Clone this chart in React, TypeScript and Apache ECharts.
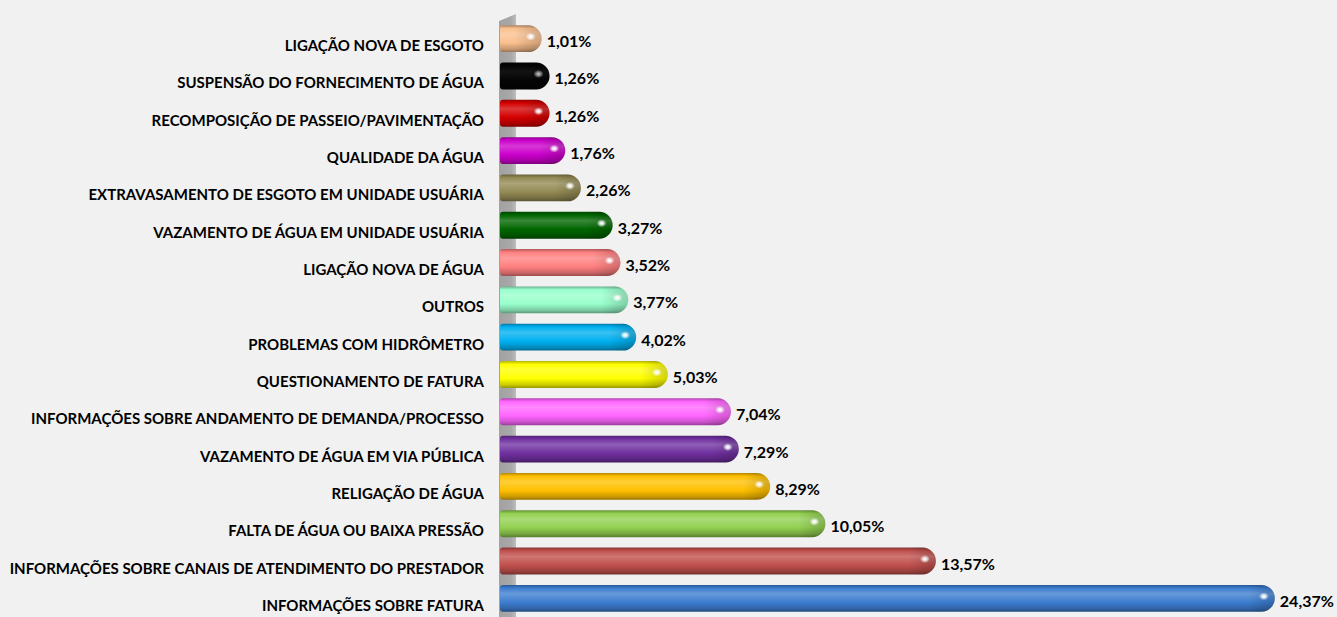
import React, { useEffect, useRef } from "react";
import * as echarts from "echarts";

const categories = [
  "LIGAÇÃO NOVA DE ESGOTO",
  "SUSPENSÃO DO FORNECIMENTO DE ÁGUA",
  "RECOMPOSIÇÃO DE PASSEIO/PAVIMENTAÇÃO",
  "QUALIDADE DA ÁGUA",
  "EXTRAVASAMENTO DE ESGOTO EM UNIDADE USUÁRIA",
  "VAZAMENTO DE ÁGUA EM UNIDADE USUÁRIA",
  "LIGAÇÃO NOVA DE ÁGUA",
  "OUTROS",
  "PROBLEMAS COM HIDRÔMETRO",
  "QUESTIONAMENTO DE FATURA",
  "INFORMAÇÕES SOBRE ANDAMENTO DE DEMANDA/PROCESSO",
  "VAZAMENTO DE ÁGUA EM VIA PÚBLICA",
  "RELIGAÇÃO DE ÁGUA",
  "FALTA DE ÁGUA OU BAIXA PRESSÃO",
  "INFORMAÇÕES SOBRE CANAIS DE ATENDIMENTO DO PRESTADOR",
  "INFORMAÇÕES SOBRE FATURA",
];

const values = [1.01, 1.26, 1.26, 1.76, 2.26, 3.27, 3.52, 3.77, 4.02, 5.03, 7.04, 7.29, 8.29, 10.05, 13.57, 24.37];

const barColors = [
  "#FAC08F", "#050505", "#D40000", "#CC00CC", "#948A54", "#006600", "#FF8080", "#99FFCC",
  "#00B0F0", "#FFFF00", "#FF66FF", "#7030A0", "#FFC000", "#92D050", "#C0504D", "#3C7DD0",
];

function mix(hex: string, target: number, t: number): string {
  const h = hex.replace("#", "");
  const r = parseInt(h.slice(0, 2), 16);
  const g = parseInt(h.slice(2, 4), 16);
  const b = parseInt(h.slice(4, 6), 16);
  const f = (c: number) => Math.round(c + (target - c) * t);
  return `rgb(${f(r)},${f(g)},${f(b)})`;
}

const FONT = "Lato";

export default function App() {
  const ref = useRef<HTMLDivElement>(null);
  useEffect(() => {
    if (!ref.current) return;
    const chart = echarts.init(ref.current, undefined, { renderer: "svg" });
    const data = values.map((v, i) => [v, i]);
    chart.setOption({
      animation: false,
      backgroundColor: "#f1f1f1",
      grid: { left: 510, right: 11, top: 20, bottom: -3 },
      xAxis: {
        type: "value",
        min: 0,
        max: 26,
        show: false,
      },
      yAxis: {
        type: "category",
        data: categories,
        inverse: true,
        axisLine: { show: false },
        axisTick: { show: false },
        splitLine: { show: false },
        axisLabel: {
          margin: 26,
          fontFamily: FONT,
          fontWeight: "bold",
          fontSize: 15,
          color: "#000",
          verticalAlign: "top",
          lineHeight: 13,
        },
      },
      graphic: [
        {
          type: "polygon",
          z: 0,
          shape: { points: [[499, 21], [516, 14], [516, 617], [499, 617]] },
          style: {
            fill: {
              type: "linear", x: 0, y: 0, x2: 1, y2: 0,
              colorStops: [
                { offset: 0, color: "#a2a2a2" },
                { offset: 0.7, color: "#a8a8a8" },
                { offset: 1, color: "#bdbdbd" },
              ],
            },
          },
        },
      ],
      series: [
        {
          type: "custom",
          data,
          encode: { x: 0, y: 1 },
          z: 5,
          renderItem: (params: any, api: any) => {
            const v = api.value(0);
            const idx = api.value(1);
            const start = api.coord([0, idx]);
            const end = api.coord([v, idx]);
            const band = api.size([0, 1])[1];
            const h = band * 0.72;
            const cy = start[1];
            const x0 = start[0] - 10;
            const x1 = end[0];
            const y0 = cy - h / 2;
            const c = barColors[idx];
            const r = h / 2;
            const isDark = idx === 1;
            return {
              type: "group",
              children: [
                {
                  type: "rect",
                  shape: { x: x0, y: y0, width: x1 - x0, height: h, r: [3, r, r, 3] },
                  style: {
                    fill: {
                      type: "linear", x: 0, y: 0, x2: 0, y2: 1,
                      colorStops: [
                        { offset: 0, color: mix(c, 0, 0.3) },
                        { offset: 0.12, color: c },
                        { offset: 0.33, color: mix(c, 255, isDark ? 0.06 : 0.22) },
                        { offset: 0.65, color: c },
                        { offset: 0.88, color: mix(c, 0, 0.2) },
                        { offset: 1, color: mix(c, 0, 0.4) },
                      ],
                    },
                  },
                },
                {
                  type: "rect",
                  shape: { x: x1 - h, y: y0, width: h, height: h, r: [0, r, r, 0] },
                  style: {
                    fill: {
                      type: "linear", x: 0, y: 0, x2: 1, y2: 0,
                      colorStops: [
                        { offset: 0, color: "rgba(0,0,0,0)" },
                        { offset: 1, color: "rgba(0,0,0,0.18)" },
                      ],
                    },
                  },
                },
                {
                  type: "ellipse",
                  shape: { cx: x1 - 11, cy: cy - 2, rx: 5, ry: 4 },
                  style: {
                    fill: {
                      type: "radial", x: 0.5, y: 0.5, r: 0.5,
                      colorStops: [
                        { offset: 0, color: isDark ? "rgba(220,220,220,1)" : "rgba(255,255,255,1)" },
                        { offset: 0.35, color: isDark ? "rgba(200,200,200,0.7)" : "rgba(255,255,255,0.85)" },
                        { offset: 1, color: "rgba(255,255,255,0)" },
                      ],
                    },
                  },
                },
                {
                  type: "text",
                  x: x1 + 5,
                  y: cy + 2,
                  style: {
                    text: v.toFixed(2).replace(".", ",") + "%",
                    fontFamily: FONT,
                    fontWeight: "bold",
                    fontSize: 16,
                    fill: "#000",
                    verticalAlign: "middle",
                    align: "left",
                  },
                },
              ],
            };
          },
        },
      ],
    });
    return () => chart.dispose();
  }, []);
  return (
    <div
      ref={ref}
      style={{ position: "absolute", left: 0, top: 0, width: 1337, height: 617 }}
    />
  );
}
